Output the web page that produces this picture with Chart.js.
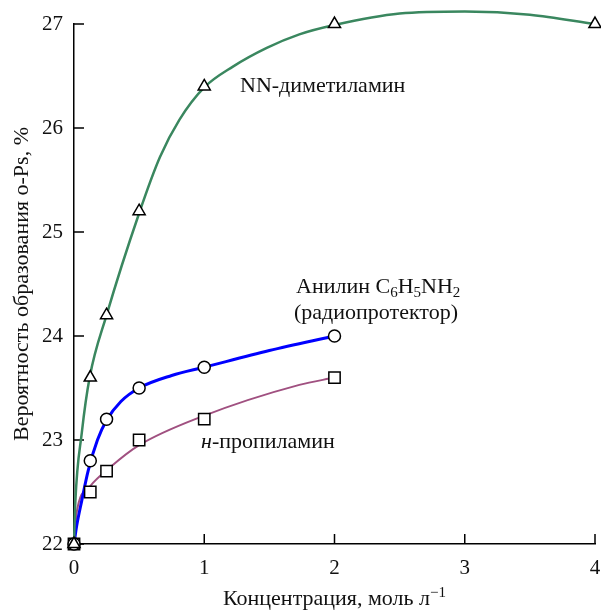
<!DOCTYPE html>
<html>
<head>
<meta charset="utf-8">
<script src="https://cdn.jsdelivr.net/npm/chart.js@4.4.0/dist/chart.umd.min.js"></script>
<style>
  html, body { margin: 0; padding: 0; background: #fff; overflow: hidden; }
  #wrap { width: 601px; height: 610px; position: relative; }
</style>
</head>
<body>
<div id="wrap"><canvas id="chart"></canvas></div>
<script>
// measured points (concentration, mol/l -> o-Ps yield, %)
var dmaX = [0, 0.125, 0.25, 0.5, 1, 2, 4];
var dmaY = [22, 23.6, 24.2, 25.2, 26.4, 27, 27];
var amineX = [0, 0.125, 0.25, 0.5, 1, 2];
var anilineY = [22, 22.8, 23.2, 23.5, 23.7, 24.0];
var propylY = [22, 22.5, 22.7, 23.0, 23.2, 23.6];

// fitted curves
var dmaCurveX = [0, 0.01, 0.06, 0.12, 0.25, 0.5, 0.66, 0.81, 1, 1.22, 1.48, 1.73, 2, 2.5, 3, 3.5, 4];
var dmaCurveY = [22, 22.4, 23.07, 23.6, 24.2, 25.18, 25.72, 26.08, 26.39, 26.59, 26.77, 26.9, 26.99, 27.1, 27.12, 27.09, 27.0];
var anilineCurveX = [0, 0.02, 0.06, 0.11, 0.18, 0.25, 0.36, 0.5, 0.75, 1, 1.5, 2];
var anilineCurveY = [22, 22.17, 22.42, 22.71, 23.0, 23.19, 23.37, 23.5, 23.62, 23.7, 23.86, 24.0];
var propylCurveX = [0, 0.02, 0.12, 0.28, 0.5, 0.97, 1.73, 2];
var propylCurveY = [22, 22.3, 22.55, 22.74, 22.95, 23.22, 23.53, 23.6];

var SERIF = "'Liberation Serif', 'Times New Roman', serif";

function pts(xs, ys) {
    return xs.map(function (x, i) { return { x: x, y: ys[i] }; });
}

function markers(xs, ys, style, r) {
    return {
        data: pts(xs, ys),
        showLine: false,
        pointStyle: style,
        pointRadius: r,
        pointBackgroundColor: '#fff',
        pointBorderColor: '#000',
        pointBorderWidth: 1.5,
        clip: false
    };
}

function curve(xs, ys, color, w) {
    return {
        data: pts(xs, ys),
        showLine: true,
        borderColor: color,
        borderWidth: w,
        pointRadius: 0,
        cubicInterpolationMode: 'monotone',
        clip: false
    };
}

// draw text made of runs (subscripts, superscripts, italics)
function runFont(r, size) {
    var s = (r.sub || r.sup) ? Math.round(size * 0.7) : size;
    return (r.italic ? 'italic ' : '') + s + 'px ' + SERIF;
}
function drawRuns(ctx, x, y, runs, size, align) {
    var total = 0;
    runs.forEach(function (r) { ctx.font = runFont(r, size); total += ctx.measureText(r.t).width; });
    var cx = align === 'center' ? x - total / 2 : x;
    runs.forEach(function (r) {
        ctx.font = runFont(r, size);
        var dy = r.sub ? size * 0.2 : (r.sup ? -size * 0.38 : 0);
        ctx.fillText(r.t, cx, y + dy);
        cx += ctx.measureText(r.t).width;
    });
}

var decor = {
    id: 'decor',
    beforeDatasetsDraw: function (chart) {
        var ctx = chart.ctx, a = chart.chartArea;
        var xs = chart.scales.x, ys = chart.scales.y;
        ctx.save();
        ctx.strokeStyle = '#000';
        ctx.lineWidth = 1.5;
        ctx.beginPath();
        ys.ticks.forEach(function (t) {
            var py = ys.getPixelForValue(t.value);
            ctx.moveTo(a.left, py);
            ctx.lineTo(a.left + 10, py);
        });
        xs.ticks.forEach(function (t) {
            var px = xs.getPixelForValue(t.value);
            ctx.moveTo(px, a.bottom);
            ctx.lineTo(px, a.bottom - 10);
        });
        ctx.stroke();
        ctx.restore();
    },
    afterDraw: function (chart) {
        var ctx = chart.ctx, a = chart.chartArea;
        ctx.save();
        ctx.fillStyle = '#111';
        ctx.textBaseline = 'alphabetic';
        ctx.textAlign = 'left';

        // axis titles
        drawRuns(ctx, (a.left + a.right) / 2, 605,
            [{ t: 'Концентрация, моль л' }, { t: '−1', sup: true }], 22, 'center');
        ctx.save();
        ctx.translate(28, (a.top + a.bottom) / 2);
        ctx.rotate(-Math.PI / 2);
        drawRuns(ctx, 0, 0, [{ t: 'Вероятность образования o-Ps, %' }], 22, 'center');
        ctx.restore();

        // curve labels
        drawRuns(ctx, 240, 92, [{ t: 'NN-диметиламин' }], 22);
        drawRuns(ctx, 296, 293, [{ t: 'Анилин C' }, { t: '6', sub: true }, { t: 'H' },
            { t: '5', sub: true }, { t: 'NH' }, { t: '2', sub: true }], 22);
        drawRuns(ctx, 294, 319, [{ t: '(радиопротектор)' }], 22);
        drawRuns(ctx, 201, 448, [{ t: 'н', italic: true }, { t: '-пропиламин' }], 22);
        ctx.restore();
    }
};

new Chart(document.getElementById('chart'), {
    type: 'scatter',
    data: {
        datasets: [
            markers(dmaX, dmaY, 'triangle', 7),
            markers(amineX, anilineY, 'circle', 6),
            markers(amineX, propylY, 'rect', 8),
            curve(dmaCurveX, dmaCurveY, 'rgb(58,135,95)', 2.5),
            curve(anilineCurveX, anilineCurveY, 'rgb(0,0,255)', 3),
            curve(propylCurveX, propylCurveY, 'rgb(160,80,128)', 2)
        ]
    },
    options: {
        responsive: true,
        maintainAspectRatio: false,
        animation: false,
        layout: { autoPadding: false, padding: { top: 24, right: 6, left: 0, bottom: 0 } },
        plugins: {
            legend: { display: false },
            tooltip: { enabled: false }
        },
        scales: {
            x: {
                type: 'linear',
                min: 0,
                max: 4,
                ticks: { stepSize: 1, color: '#111', padding: 12, font: { family: SERIF, size: 21 } },
                grid: { display: false, drawTicks: false },
                border: { display: true, color: '#000', width: 1.5 },
                afterFit: function (s) { s.height = 66; s.paddingLeft = 0; s.paddingRight = 0; }
            },
            y: {
                type: 'linear',
                min: 22,
                max: 27,
                ticks: { stepSize: 1, color: '#111', padding: 11, font: { family: SERIF, size: 21 } },
                grid: { display: false, drawTicks: false },
                border: { display: true, color: '#000', width: 1.5 },
                afterFit: function (s) { s.width = 74; s.paddingTop = 0; s.paddingBottom = 0; }
            }
        }
    },
    plugins: [decor]
});
</script>
</body>
</html>
